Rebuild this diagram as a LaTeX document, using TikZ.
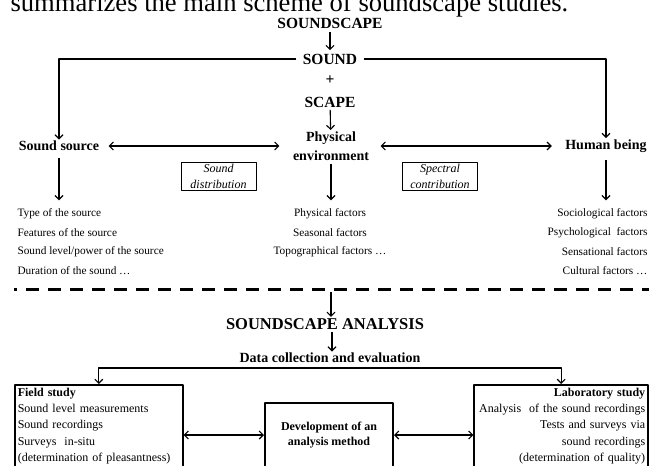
\documentclass[tikz,border=0pt]{standalone}
\usepackage{fontspec}
\setmainfont{Liberation Serif}
\usetikzlibrary{arrows.meta}

\tikzset{
    head/.style={font=\fontsize{15.5}{17}\selectfont\bfseries, inner sep=1pt},
    part/.style={font=\fontsize{14}{19}\selectfont\bfseries, align=center, inner sep=1pt},
    fact/.style={font=\fontsize{11.3}{13}\selectfont, inner sep=0pt},
    tagbox/.style={draw, line width=.7pt, font=\fontsize{12}{16}\selectfont\itshape, align=center,
        inner sep=0pt, minimum width=75pt, minimum height=28pt},
    studybox/.style={draw, line width=1.6pt, font=\fontsize{12}{16.3}\selectfont, inner sep=3pt, text depth=92pt},
}

\begin{document}
\begin{tikzpicture}[>={Straight Barb[length=4pt,width=8pt]}, x=1pt, y=-1pt, line width=1.1pt, line join=round]
    \useasboundingbox (0,0) rectangle (649,466);
    \node[anchor=base west, inner sep=0pt, font=\fontsize{26.6}{30}\selectfont] (intro) at (10,11) {summarizes the main scheme of soundscape studies.};
    % upper part
    \node[head] (soundscape) at (330,23) {SOUNDSCAPE};
    \node[head, inner xsep=6pt] (sound) at (330,59) {SOUND};
    \node[head] (plus) at (330,80) {+};
    \node[head] (scape) at (330,102) {SCAPE};
    \node[part] (source) at (59,146) {Sound source};
    \node[part] (env) at (331,146) {Physical\\environment};
    \node[part] (human) at (606,146) {Human being};
    \node[tagbox] (distr) at (218.5,176) {Sound\\distribution};
    \node[tagbox] (spect) at (440,176) {Spectral\\contribution};

    \draw[->, shorten <=2pt, shorten >=2pt] (soundscape) -- (sound);
    \draw[->] (sound.west) -| (source.north);
    \draw[->] (sound.east) -| (human.north);
    \draw[->, shorten <=1pt] (scape) -- (env);
    \draw[<->, shorten <=8pt, shorten >=12pt] (source) -- (env);
    \draw[<->, shorten <=10pt, shorten >=12pt] (env) -- (human);

    \def\ya{214} \def\dy{18.7}
    \foreach \t [count=\i from 0] in {Type of the source, Features of the source,
        Sound level/power of the source, Duration of the sound \dots}
    \node[fact, anchor=west] (src\i) at (17,\ya+\i*\dy) {\t};
    \foreach \t [count=\i from 0] in {Physical factors, Seasonal factors, Topographical factors \dots}
    \node[fact] (phy\i) at (330,\ya+\i*\dy) {\t};
    \foreach \t [count=\i from 0] in {Sociological factors, Psychological\ \ factors,
        Sensational factors, Cultural factors \dots}
    \node[fact, anchor=east] (hum\i) at (648,\ya+\i*\dy) {\t};

    \draw[->, shorten <=6pt, shorten >=8pt] (source.south) -- (source.south |- src0.north);
    \draw[->, shorten <=2pt, shorten >=8pt] (env.south) -- (env.south |- phy0.north);
    \draw[->, shorten <=6pt, shorten >=8pt] (human.south) -- (human.south |- hum0.north);

    % lower part
    \coordinate (cutl) at (14,289);
    \coordinate (cutr) at (652,289);
    \draw[line width=3pt, dash pattern=on 13pt off 9pt, dash phase=10pt] (cutl) -- (cutr);
    \node[head, font=\fontsize{16.5}{18}\selectfont\bfseries] (analysis) at (325,324) {SOUNDSCAPE ANALYSIS};
    \node[head, font=\fontsize{14}{16}\selectfont\bfseries] (data) at (330,358) {Data collection and evaluation};
    \draw[->] (331,292) -- (analysis.north -| 331,0);
    \draw[->, shorten <=1pt] (analysis.south -| 332,0) -- (data.north -| 332,0);

    \node[studybox, anchor=north west, text width=162pt, align=left] (field) at (14,384)
        {\textbf{Field study}\\Sound level measurements\\Sound recordings\\Surveys\ \ in-situ\\(determination of pleasantness)};
    \node[studybox, anchor=north east, text width=168pt, align=right] (lab) at (649,384)
        {\textbf{Laboratory study}\\Analysis\ \ of the sound recordings\\Tests and surveys via\\sound recordings\\(determination of quality)};
    \node[draw, line width=2pt, minimum width=128pt, minimum height=64pt, align=center,
        font=\fontsize{12}{15}\selectfont\bfseries] (dev) at (329,435) {Development of an\\analysis method};

    \coordinate (bar) at (330,368);
    \draw[<->] (field.north) |- (bar) -| (lab.north);
    \draw[<->] (field.east |- dev.west) -- (dev.west);
    \draw[<->] (dev.east) -- (lab.west |- dev.east);
\end{tikzpicture}
\end{document}
